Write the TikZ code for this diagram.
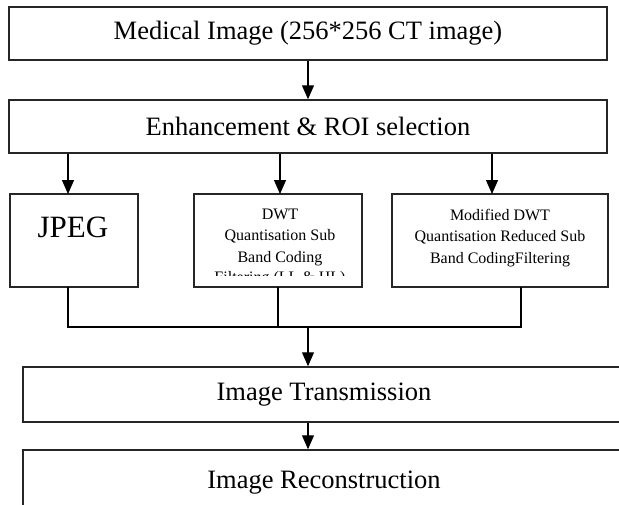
\documentclass[tikz,border=0pt]{standalone}
\usepackage{fontspec}
\setmainfont{Liberation Serif}
\usetikzlibrary{arrows.meta, positioning}

\begin{document}
\begin{tikzpicture}[x=1pt, y=-1pt,
    blk/.style={draw=black!85, line width=1.5pt, inner sep=0pt, font=\fontsize{26.5}{30}\selectfont},
    small/.style={font=\fontsize{16}{21.5}\selectfont, align=center, inner sep=0pt},
    wire/.style={line width=1.2pt},
    flow/.style={wire, -{Triangle[width=12pt,length=14pt]}}]
    \useasboundingbox (0,0) rectangle (619,504);
    \clip (0,0) rectangle (619,504);

    % Stages
    \node[blk, minimum width=598pt, minimum height=53pt] (med) at (308,33.5) {Medical Image (256*256 CT image)};
    \node[blk, minimum width=598pt, minimum height=53pt] (enh) at (308,126.5) {Enhancement \& ROI selection};
    \node[blk, minimum width=128pt, minimum height=93pt] (jpeg) at (74,240.5) {};
    \node[blk, minimum width=168pt, minimum height=93pt] (dwt) at (278,240.5) {};
    \node[blk, minimum width=216pt, minimum height=93pt] (mdwt) at (500,240.5) {};
    \node[blk, minimum width=602pt, minimum height=55pt] (trans) at (324,394.5) {Image Transmission};
    \node[blk, minimum width=602pt, minimum height=66pt] (recon) at (324,483) {Image Reconstruction};

    % Texts of the three coders
    \node[font=\fontsize{31}{31}\selectfont, inner sep=0pt] (jpegtxt) at (73,227) {JPEG};
    \node[small] (dwttxt) at (280,237) {DWT\\Quantisation Sub\\Band Coding};
    \node[small] (mdwttxt) at (500,238) {Modified DWT\\Quantisation Reduced Sub\\Band CodingFiltering};
    \begin{scope}
        \clip (196,266) rectangle (360,275.5);
        \node[small] (dwtcut) at (280,279) {Filtering (LL \& HL)};
    \end{scope}

    % Connectors
    \coordinate (inA) at (68,194);
    \coordinate (inB) at (280,194);
    \coordinate (inC) at (492,194);
    \coordinate (outA) at (68,287);
    \coordinate (outB) at (278,287);
    \coordinate (outC) at (521,287);
    \coordinate (join) at (308,327);

    \draw[flow] (med.south) -- (enh.north);
    \draw[flow] (enh.south -| inA) -- (inA);
    \draw[flow] (enh.south -| inB) -- (inB);
    \draw[flow] (enh.south -| inC) -- (inC);
    \draw[wire] (outA) -- (outA |- join) -- (outC |- join) -- (outC);
    \draw[wire] (outB) -- (outB |- join);
    \draw[flow] (join) -- (trans.north -| join);
    \draw[flow] (trans.south -| join) -- (recon.north -| join);
\end{tikzpicture}
\end{document}
